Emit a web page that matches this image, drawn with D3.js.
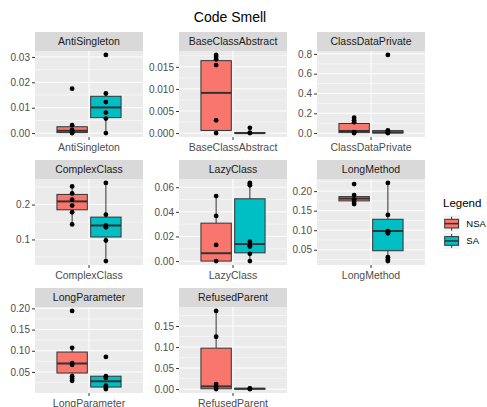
<!DOCTYPE html>
<html>
<head>
<meta charset="utf-8">
<script src="https://cdn.jsdelivr.net/npm/d3@7"></script>
<style>
  body { margin: 0; background: #fff; }
  text { font-family: "Liberation Sans", Arial, sans-serif; }
</style>
</head>
<body>
<div id="chart"></div>
<script>
// data
const smells = ["AntiSingleton", "BaseClassAbstract", "ClassDataPrivate", "ComplexClass",
                "LazyClass", "LongMethod", "LongParameter", "RefusedParent"];
const groups = ["NSA", "SA"];
const groupColors = ["#F8766D", "#00BFC4"];

// box stats: [lower whisker, q1, median, q3, upper whisker]
const nsaBox = [
  [0, 0.0002, 0.0009, 0.0025, 0.0031],
  [0, 0.0006, 0.0091, 0.0164, 0.0177],
  [0, 0.005, 0.021, 0.097, 0.156],
  [0.143, 0.185, 0.209, 0.229, 0.252],
  [0, 0, 0.0064, 0.0308, 0.0528],
  [0.167, 0.175, 0.181, 0.186, 0.19],
  [0.029, 0.0475, 0.07, 0.097, 0.107],
  [0, 0.0008, 0.0064, 0.0974, 0.186]
];
const saBox = [
  [0, 0.0061, 0.0101, 0.0145, 0.0156],
  [0, 0, 0, 0.0001, 0.0001],
  [0, 0.001, 0.007, 0.025, 0.03],
  [0.038, 0.107, 0.14, 0.164, 0.262],
  [0, 0.0067, 0.0139, 0.0506, 0.0635],
  [0.021, 0.0475, 0.098, 0.128, 0.221],
  [0.0096, 0.0144, 0.028, 0.04, 0.04],
  [0, 0, 0.001, 0.0016, 0.0016]
];
const nsaPoints = [
  [0.0175, 0.0031, 0.0013, 0.0008, 0.0001, 0],
  [0.0177, 0.0172, 0.0167, 0.0154, 0.0029, 0],
  [0.156, 0.13, 0.11, 0.01, 0.003, 0],
  [0.252, 0.232, 0.214, 0.197, 0.178, 0.143],
  [0.0528, 0.0367, 0.0131, 0],
  [0.218, 0.19, 0.179, 0.173, 0.167],
  [0.194, 0.107, 0.071, 0.067, 0.04, 0.034, 0.029],
  [0.186, 0.1245, 0.012, 0.0064, 0]
];
const saPoints = [
  [0.0308, 0.0156, 0.0122, 0.0081, 0.0057, 0],
  [0.0012, 0.0001, 0],
  [0.79, 0.028, 0.017, 0.003, 0],
  [0.262, 0.171, 0.14, 0.135, 0.097, 0.038],
  [0.0635, 0.0627, 0.0616, 0.0158, 0.0126, 0.0118, 0.0059, 0],
  [0.221, 0.139, 0.0975, 0.094, 0.092, 0.031, 0.025, 0.021],
  [0.0855, 0.04, 0.036, 0.0175, 0.0136, 0.0096],
  [0.0016, 0.0008, 0]
];
const yTicks = [
  [0, 0.01, 0.02, 0.03],
  [0, 0.005, 0.01, 0.015],
  [0, 0.2, 0.4, 0.6, 0.8],
  [0.1, 0.2],
  [0, 0.02, 0.04, 0.06],
  [0.05, 0.1, 0.15, 0.2],
  [0.05, 0.1, 0.15, 0.2],
  [0, 0.05, 0.1, 0.15]
];
const yDecimals = [2, 3, 1, 1, 2, 2, 2, 2];

// layout
const W = 487, H = 407;
const colX = [35, 179, 317], panelW = 108;
const rowY = [32, 160, 288], stripH = 19, panelH = 86;

const svg = d3.select("#chart").append("svg")
    .attr("width", W).attr("height", H);

svg.append("text")
    .attr("x", (colX[0] + colX[2] + panelW) / 2).attr("y", 22)
    .attr("text-anchor", "middle")
    .style("font-size", "14px").attr("fill", "#000")
    .text("Code Smell");

smells.forEach(function (name, i) {
    const x0 = colX[i % 3], top = rowY[Math.floor(i / 3)];
    const pTop = top + stripH, pBot = pTop + panelH;

    const boxes = [nsaBox[i], saBox[i]];
    const pts = [nsaPoints[i], saPoints[i]];
    const all = pts.flat().concat(boxes.flat());
    const lo = d3.min(all), hi = d3.max(all), pad = (hi - lo) * 0.05;

    const x = d3.scaleLinear().domain([0.4, 1.6]).range([x0, x0 + panelW]);
    const y = d3.scaleLinear().domain([lo - pad, hi + pad]).range([pBot, pTop]);

    const g = svg.append("g");

    // strip
    g.append("rect").attr("x", x0).attr("y", top).attr("width", panelW).attr("height", stripH)
        .attr("fill", "#D9D9D9");
    g.append("text").attr("x", x0 + panelW / 2).attr("y", top + stripH / 2 + 3.8)
        .attr("text-anchor", "middle").style("font-size", "10.5px").attr("fill", "#1A1A1A")
        .text(name);

    // panel + grid
    g.append("rect").attr("x", x0).attr("y", pTop).attr("width", panelW).attr("height", panelH)
        .attr("fill", "#EBEBEB");
    const ticks = yTicks[i], step = ticks[1] - ticks[0];
    const minors = [];
    for (let k = -1; k < ticks.length; k++) minors.push(ticks[0] + step * (k + 0.5));
    const [d0, d1] = y.domain();
    g.selectAll(".minor").data(minors.filter(v => v > d0 && v < d1)).enter().append("line")
        .attr("x1", x0).attr("x2", x0 + panelW)
        .attr("y1", d => y(d)).attr("y2", d => y(d))
        .attr("stroke", "#fff").attr("stroke-width", 0.5);
    g.selectAll(".major").data(ticks).enter().append("line")
        .attr("x1", x0).attr("x2", x0 + panelW)
        .attr("y1", d => y(d)).attr("y2", d => y(d))
        .attr("stroke", "#fff").attr("stroke-width", 1);
    g.append("line").attr("x1", x(1)).attr("x2", x(1)).attr("y1", pTop).attr("y2", pBot)
        .attr("stroke", "#fff").attr("stroke-width", 1);

    // y axis
    const yAxis = g.append("g").attr("transform", `translate(${x0},0)`)
        .call(d3.axisLeft(y).tickValues(ticks).tickSize(3).tickPadding(2)
            .tickFormat(d3.format(`.${yDecimals[i]}f`)));
    yAxis.select(".domain").remove();
    yAxis.selectAll("line").attr("stroke", "#333333");
    yAxis.selectAll("text").attr("fill", "#4D4D4D")
        .style("font-size", "10px").style("font-family", "Liberation Sans, Arial, sans-serif");

    // x axis
    g.append("line").attr("x1", x(1)).attr("x2", x(1)).attr("y1", pBot).attr("y2", pBot + 3)
        .attr("stroke", "#333333");
    g.append("text").attr("x", x(1)).attr("y", pBot + 13.5)
        .attr("text-anchor", "middle").style("font-size", "10.5px").attr("fill", "#4D4D4D")
        .text(name);

    // boxes
    const half = 0.16875;
    boxes.forEach(function (b, j) {
        const cx = 1 + (j === 0 ? -0.1875 : 0.1875);
        g.append("line").attr("x1", x(cx)).attr("x2", x(cx))
            .attr("y1", y(b[0])).attr("y2", y(b[1])).attr("stroke", "#333333");
        g.append("line").attr("x1", x(cx)).attr("x2", x(cx))
            .attr("y1", y(b[3])).attr("y2", y(b[4])).attr("stroke", "#333333");
        g.append("rect").attr("x", x(cx - half)).attr("width", x(cx + half) - x(cx - half))
            .attr("y", y(b[3])).attr("height", Math.max(0, y(b[1]) - y(b[3])))
            .attr("fill", groupColors[j]).attr("stroke", "#333333").attr("stroke-width", 1);
        g.append("line").attr("x1", x(cx - half)).attr("x2", x(cx + half))
            .attr("y1", y(b[2])).attr("y2", y(b[2]))
            .attr("stroke", "#333333").attr("stroke-width", 2);
        g.selectAll(null).data(pts[j]).enter().append("circle")
            .attr("cx", x(cx)).attr("cy", d => y(d)).attr("r", 2.4).attr("fill", "#000");
    });
});

// legend
const lg = svg.append("g").attr("transform", "translate(443,0)");
lg.append("text").attr("x", 0).attr("y", 207).style("font-size", "11.5px").attr("fill", "#000")
    .text("Legend");
groups.forEach(function (name, j) {
    const ky = 215 + j * 17.3, ks = 17.3;
    lg.append("rect").attr("x", 0).attr("y", ky).attr("width", ks).attr("height", ks)
        .attr("fill", "#F2F2F2").attr("stroke", "#fff").attr("stroke-width", 1);
    lg.append("line").attr("x1", ks / 2).attr("x2", ks / 2).attr("y1", ky + ks * 0.1).attr("y2", ky + ks * 0.9)
        .attr("stroke", "#333333");
    lg.append("rect").attr("x", ks * 0.1).attr("y", ky + ks * 0.25).attr("width", ks * 0.8).attr("height", ks * 0.5)
        .attr("fill", groupColors[j]).attr("stroke", "#333333");
    lg.append("line").attr("x1", ks * 0.1).attr("x2", ks * 0.9).attr("y1", ky + ks / 2).attr("y2", ky + ks / 2)
        .attr("stroke", "#333333").attr("stroke-width", 1.5);
    lg.append("text").attr("x", ks + 6).attr("y", ky + ks / 2 + 3.5)
        .style("font-size", "9.5px").attr("fill", "#000").text(name);
});
</script>
</body>
</html>
